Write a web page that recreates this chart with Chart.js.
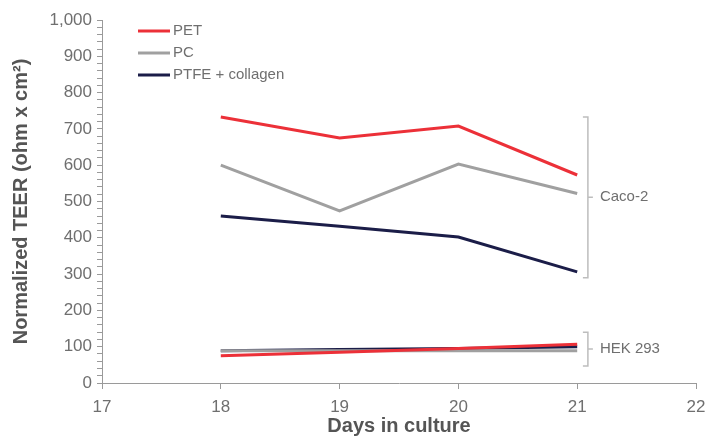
<!DOCTYPE html>
<html>
<head>
<meta charset="utf-8">
<script src="https://cdn.jsdelivr.net/npm/chart.js@4.4.1/dist/chart.umd.min.js"></script>
<style>
  html, body { margin: 0; padding: 0; background: #fff; }
  #wrap { width: 709px; height: 438px; }
</style>
</head>
<body>
<div id="wrap"><canvas id="teerChart"></canvas></div>
<script>
// ================= DATA =================
const days = [18, 19, 20, 21];

const seriesNames = ["PET", "PC", "PTFE + collagen"];
const seriesColors = ["#ec3038", "#a0a0a0", "#1b1d48"];

// Caco-2 cells
const cacoPET  = [733, 675, 708, 573];
const cacoPC   = [600, 474, 603, 522];
const cacoPTFE = [460, 432, 402, 306];

// HEK 293 cells
const hekPET  = [75, 85, 95, 107];
const hekPC   = [89, 89, 89, 89];
const hekPTFE = [89, 92, 95, 100];

// cell line brackets (value range on y axis)
const groupLabels = ["Caco-2", "HEK 293"];
const groupFrom = [290, 47];
const groupTo   = [733, 140];

const xTicks = [17, 18, 19, 20, 21, 22];

// ================= HELPERS =================
const FONT = "'Liberation Sans', Arial, sans-serif";
const TXT = "#6f6f6f";
const AXIS = "#9a9a9a";

function toPoints(vals) {
    return vals.map((v, i) => ({ x: days[i], y: v }));
}

function makeSet(label, vals, color) {
    return {
        label,
        data: toPoints(vals),
        borderColor: color,
        backgroundColor: color,
        borderWidth: 3,
        pointRadius: 0,
        tension: 0,
        fill: false
    };
}

// ================= PLUGIN: legend + brackets =================
const extras = {
    id: "extras",
    afterDraw(chart) {
        const { ctx, scales } = chart;
        const xs = scales.x, ys = scales.y;
        ctx.save();

        // legend
        ctx.font = "15px " + FONT;
        ctx.textBaseline = "middle";
        ctx.textAlign = "left";
        seriesNames.forEach((name, i) => {
            const y = 31 + i * 22;
            ctx.strokeStyle = seriesColors[i];
            ctx.lineWidth = 3;
            ctx.beginPath();
            ctx.moveTo(138, y);
            ctx.lineTo(170, y);
            ctx.stroke();
            ctx.fillStyle = TXT;
            ctx.fillText(name, 173, y);
        });

        // brackets
        const bx = xs.getPixelForValue(21.09);
        ctx.strokeStyle = "#bdbdbd";
        ctx.lineWidth = 1.5;
        groupLabels.forEach((lab, i) => {
            const y1 = ys.getPixelForValue(groupTo[i]);
            const y2 = ys.getPixelForValue(groupFrom[i]);
            const ym = (y1 + y2) / 2;
            ctx.beginPath();
            ctx.moveTo(bx - 5, y1);
            ctx.lineTo(bx, y1);
            ctx.lineTo(bx, y2);
            ctx.lineTo(bx - 5, y2);
            ctx.moveTo(bx, ym);
            ctx.lineTo(bx + 5, ym);
            ctx.stroke();
            ctx.fillStyle = TXT;
            ctx.font = "15px " + FONT;
            ctx.fillText(lab, bx + 12, ym);
        });

        ctx.restore();
    }
};

// ================= CHART =================
const ctx = document.getElementById("teerChart");

new Chart(ctx, {
    type: "line",
    data: {
        datasets: [
            makeSet(seriesNames[0], cacoPET, seriesColors[0]),
            makeSet(seriesNames[1], cacoPC, seriesColors[1]),
            makeSet(seriesNames[2], cacoPTFE, seriesColors[2]),
            makeSet(seriesNames[0], hekPET, seriesColors[0]),
            makeSet(seriesNames[1], hekPC, seriesColors[1]),
            makeSet(seriesNames[2], hekPTFE, seriesColors[2])
        ]
    },
    options: {
        responsive: true,
        maintainAspectRatio: false,
        animation: false,
        layout: { padding: { top: 20, right: 13, left: 0, bottom: 0 } },
        plugins: {
            legend: { display: false },
            tooltip: { enabled: false }
        },
        scales: {
            x: {
                type: "linear",
                min: 17,
                max: 22,
                afterBuildTicks: (s) => { s.ticks = xTicks.map(v => ({ value: v })); },
                afterFit: (s) => {
                    s.height = 55;
                    s.paddingLeft = 0;
                    s.paddingRight = 0;
                },
                border: { display: true, color: AXIS, width: 1 },
                grid: { drawOnChartArea: false, drawTicks: true, tickLength: 6, color: AXIS },
                ticks: {
                    color: TXT,
                    padding: 8,
                    maxRotation: 0,
                    font: { family: FONT, size: 17 }
                },
                title: {
                    display: true,
                    text: "Days in culture",
                    color: "#555",
                    padding: { top: 0, bottom: 0 },
                    font: { family: FONT, size: 20, weight: "bold" }
                }
            },
            y: {
                min: 0,
                max: 1000,
                afterFit: (s) => {
                    s.width = 102;
                    s.paddingTop = 0;
                    s.paddingBottom = 0;
                },
                border: { display: true, color: AXIS, width: 1 },
                grid: { drawOnChartArea: false, drawTicks: true, tickLength: 5, color: AXIS },
                ticks: {
                    stepSize: 20,
                    autoSkip: false,
                    color: TXT,
                    padding: 5,
                    font: { family: FONT, size: 17 },
                    callback: (v) => (v % 100 === 0 ? v.toLocaleString("en-US") : "")
                },
                title: {
                    display: true,
                    text: "Normalized TEER (ohm x cm²)",
                    color: "#555",
                    padding: { top: 9, bottom: 0 },
                    font: { family: FONT, size: 20, weight: "bold" }
                }
            }
        }
    },
    plugins: [extras]
});
</script>
</body>
</html>
